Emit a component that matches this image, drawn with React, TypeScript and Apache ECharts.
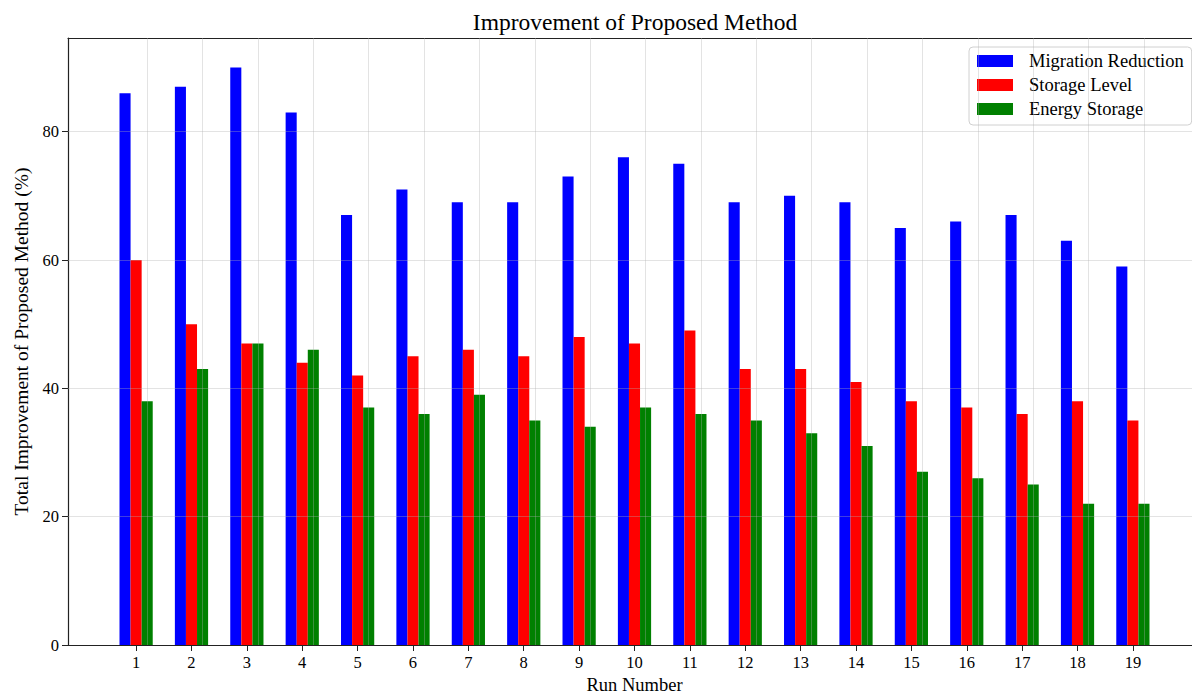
import React, { useEffect, useRef } from "react";
import * as echarts from "echarts";

const runs = [1, 2, 3, 4, 5, 6, 7, 8, 9, 10, 11, 12, 13, 14, 15, 16, 17, 18, 19];
const migrationReduction = [86, 87, 90, 83, 67, 71, 69, 69, 73, 76, 75, 69, 70, 69, 65, 66, 67, 63, 59];
const storageLevel = [60, 50, 47, 44, 42, 45, 46, 45, 48, 47, 49, 43, 43, 41, 38, 37, 36, 38, 35];
const energyStorage = [38, 43, 47, 46, 37, 36, 39, 35, 34, 37, 36, 35, 33, 31, 27, 26, 25, 22, 22];
const yTicks = [0, 20, 40, 60, 80];

const FONT = "'Liberation Serif', 'DejaVu Serif', serif";

export default function App() {
  const ref = useRef<HTMLDivElement>(null);
  useEffect(() => {
    if (!ref.current) return;
    const chart = echarts.init(ref.current, undefined, { renderer: "svg" });
    const gridColor = "rgba(176,176,176,0.35)";
    const mk = (name: string, color: string, vals: number[], withGrid: boolean) => ({
      name,
      type: "bar",
      data: runs.map((r, i) => [r, vals[i]]),
      barWidth: "20%",
      barGap: "0%",
      itemStyle: { color },
      z: 2,
      markLine: withGrid
        ? {
            silent: true,
            symbol: "none",
            label: { show: false },
            lineStyle: { color: gridColor, width: 1, type: "solid" },
            data: [
              ...runs.map((r) => ({ xAxis: r })),
              ...yTicks.slice(1).map((t) => ({ yAxis: t })),
            ],
            animation: false,
          }
        : undefined,
    });
    const xBase = {
      type: "value",
      min: -0.23,
      max: 20.23,
      splitLine: { show: false },
    };
    chart.setOption({
      animation: false,
      backgroundColor: "#fff",
      textStyle: { fontFamily: FONT },
      title: {
        text: "Improvement of Proposed Method",
        left: 630,
        textAlign: "center",
        top: 5,
        textStyle: { fontFamily: FONT, fontSize: 23.5, fontWeight: "normal", color: "#000" },
      },
      legend: {
        left: 969,
        top: 47,
        orient: "vertical",
        icon: "rect",
        itemWidth: 36,
        itemHeight: 12,
        itemGap: 4,
        padding: [4, 8, 6, 8],
        borderColor: "#d0d0d0",
        borderWidth: 1,
        borderRadius: 4,
        backgroundColor: "rgba(255,255,255,0.85)",
        textStyle: { fontFamily: FONT, fontSize: 18.5, color: "#000", lineHeight: 20, padding: [0, 0, 0, 11] },
        data: ["Migration Reduction", "Storage Level", "Energy Storage"],
      },
      grid: {
        left: 68,
        right: -9,
        top: 38,
        bottom: 46,
        outerBoundsMode: "none",
        containLabel: false,
        show: false,
      },
      xAxis: [
        {
          ...xBase,
          position: "bottom",
          name: "Run Number",
          nameLocation: "middle",
          nameGap: 21,
          nameTextStyle: { fontFamily: FONT, fontSize: 18.5, lineHeight: 18, color: "#000" },
          axisLine: { show: true, onZero: false, lineStyle: { color: "#222", width: 1.2 } },
          axisTick: { show: true, customValues: runs, length: 6, lineStyle: { color: "#222" } },
          axisLabel: { customValues: runs, fontFamily: FONT, fontSize: 16.5, color: "#000", margin: 9 },
        },
        {
          ...xBase,
          position: "top",
          axisLine: { show: true, onZero: false, lineStyle: { color: "#222", width: 1.2 } },
          axisTick: { show: false },
          axisLabel: { show: false },
        },
      ],
      yAxis: {
        type: "value",
        position: "left",
        min: 0,
        max: 94.6,
        name: "Total Improvement of Proposed Method (%)",
        nameLocation: "middle",
        nameRotate: 90,
        nameGap: 37,
        nameTextStyle: { fontFamily: FONT, fontSize: 19.5, color: "#000" },
        axisLine: { show: true, onZero: false, lineStyle: { color: "#222", width: 1.2 } },
        axisTick: { show: true, customValues: yTicks, length: 6, lineStyle: { color: "#222" } },
        axisLabel: { customValues: yTicks, fontFamily: FONT, fontSize: 16.5, color: "#000", margin: 9 },
        splitLine: { show: false },
      },
      series: [
        mk("Migration Reduction", "#0000ff", migrationReduction, false),
        mk("Storage Level", "#ff0000", storageLevel, false),
        mk("Energy Storage", "#008000", energyStorage, true),
      ],
    });
    return () => chart.dispose();
  }, []);
  return (
    <div
      ref={ref}
      style={{ position: "fixed", left: 0, top: 0, width: 1192, height: 691 }}
    />
  );
}
